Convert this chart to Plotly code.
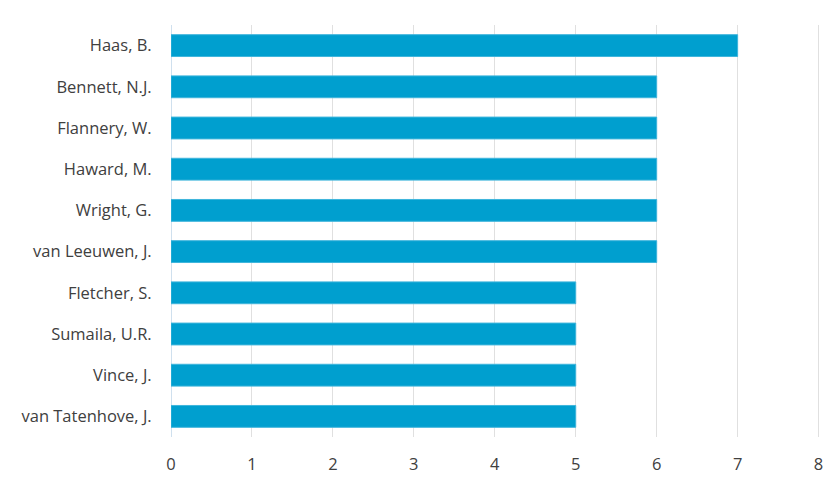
import plotly.graph_objects as go

authors = ["Haas, B.", "Bennett, N.J.", "Flannery, W.", "Haward, M.", "Wright, G.",
           "van Leeuwen, J.", "Fletcher, S.", "Sumaila, U.R.", "Vince, J.", "van Tatenhove, J."]
counts = [7, 6, 6, 6, 6, 6, 5, 5, 5, 5]
x_ticks = [0, 1, 2, 3, 4, 5, 6, 7, 8]

fig = go.Figure(go.Bar(
    y=authors, x=counts, orientation="h",
    marker=dict(color="#009fcf", line=dict(color="#3fb5dc", width=1)),
    width=0.53,
))

fig.update_layout(
    width=831, height=483,
    margin=dict(l=171, r=8, t=25, b=46),
    paper_bgcolor="white", plot_bgcolor="white",
    font=dict(family="Open Sans, sans-serif", size=16.5, color="#404040"),
    showlegend=False,
)
fig.update_xaxes(
    range=[0, 8.03], tickvals=x_ticks, showgrid=True, gridcolor="#e0e0e0", gridwidth=1,
    zeroline=True, zerolinecolor="#cfe0ee", zerolinewidth=1, showline=False,
    ticks="outside", ticklen=12, tickcolor="white",
)
fig.update_yaxes(
    categoryorder="array", categoryarray=authors, autorange="reversed",
    showgrid=False, ticks="outside", ticklen=15, tickcolor="white", showline=False,
)
fig.write_html("out.html")
